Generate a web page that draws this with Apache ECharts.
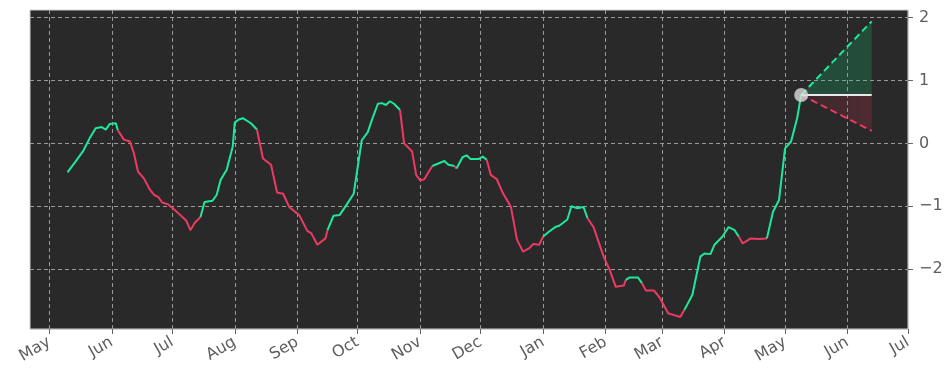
<!DOCTYPE html>
<html><head><meta charset="utf-8">
<script src="https://cdn.jsdelivr.net/npm/echarts@6/dist/echarts.min.js"></script>
<style>html,body{margin:0;padding:0;background:#fff}#c{width:952px;height:381px}</style>
</head><body><div id="c"></div>
<script>
const dates = [
'2022-05-10','2022-05-14','2022-05-18','2022-05-21','2022-05-24','2022-05-27','2022-05-29','2022-05-31','2022-06-03','2022-06-04',
'2022-06-07','2022-06-10','2022-06-12','2022-06-14','2022-06-17','2022-06-20','2022-06-22','2022-06-24','2022-06-26','2022-06-29',
'2022-07-02','2022-07-05','2022-07-08','2022-07-10','2022-07-12','2022-07-15','2022-07-17','2022-07-21','2022-07-23','2022-07-25',
'2022-07-28','2022-07-31','2022-08-01','2022-08-03','2022-08-05','2022-08-09','2022-08-12','2022-08-15','2022-08-19','2022-08-22',
'2022-08-25','2022-08-28','2022-09-02','2022-09-06','2022-09-08','2022-09-11','2022-09-15','2022-09-16','2022-09-19','2022-09-22',
'2022-09-26','2022-09-29','2022-10-03','2022-10-06','2022-10-08','2022-10-11','2022-10-13','2022-10-15','2022-10-17','2022-10-19',
'2022-10-22','2022-10-24','2022-10-28','2022-10-30','2022-11-01','2022-11-03','2022-11-07','2022-11-10','2022-11-13','2022-11-15',
'2022-11-18','2022-11-19','2022-11-22','2022-11-24','2022-11-26','2022-11-30','2022-12-02','2022-12-04','2022-12-06','2022-12-09',
'2022-12-12','2022-12-15','2022-12-16','2022-12-19','2022-12-22','2022-12-25','2022-12-27','2022-12-30','2023-01-01','2023-01-04',
'2023-01-07','2023-01-09','2023-01-13','2023-01-15','2023-01-18','2023-01-21','2023-01-23','2023-01-26','2023-01-31','2023-02-03',
'2023-02-06','2023-02-10','2023-02-11','2023-02-13','2023-02-17','2023-02-19','2023-02-21','2023-02-25','2023-02-28','2023-03-04',
'2023-03-07','2023-03-10','2023-03-12','2023-03-16','2023-03-20','2023-03-22','2023-03-25','2023-03-27','2023-03-31','2023-04-03',
'2023-04-06','2023-04-08','2023-04-10','2023-04-14','2023-04-18','2023-04-22','2023-04-25','2023-04-28','2023-05-01','2023-05-04',
'2023-05-07','2023-05-09'
];
const values = [
-0.46,-0.29,-0.11,0.08,0.24,0.26,0.22,0.31,0.32,0.21,
0.06,0.03,-0.16,-0.45,-0.56,-0.74,-0.82,-0.85,-0.94,-0.97,
-1.05,-1.14,-1.23,-1.38,-1.27,-1.17,-0.93,-0.91,-0.82,-0.58,
-0.42,-0.05,0.33,0.38,0.40,0.32,0.22,-0.24,-0.34,-0.78,
-0.80,-1.01,-1.14,-1.39,-1.43,-1.61,-1.51,-1.38,-1.15,-1.14,
-0.95,-0.80,0.05,0.18,0.37,0.63,0.64,0.61,0.67,0.63,
0.53,0.00,-0.13,-0.50,-0.59,-0.57,-0.36,-0.32,-0.28,-0.34,
-0.36,-0.40,-0.22,-0.19,-0.25,-0.25,-0.21,-0.26,-0.50,-0.57,
-0.79,-0.95,-1.01,-1.53,-1.72,-1.67,-1.60,-1.61,-1.48,-1.40,
-1.33,-1.31,-1.21,-1.00,-1.03,-1.01,-1.19,-1.33,-1.80,-2.01,
-2.28,-2.26,-2.17,-2.13,-2.13,-2.22,-2.34,-2.34,-2.46,-2.70,
-2.73,-2.76,-2.65,-2.41,-1.80,-1.75,-1.76,-1.61,-1.48,-1.33,
-1.38,-1.48,-1.59,-1.51,-1.52,-1.51,-1.09,-0.90,-0.08,0.03,
0.40,0.77
];
// trend of the segment starting at each point: G = up (green), R = down (red)
const trend = (
'GGGGGGGGGR'+'RRRRRRRRRR'+'RRRRRGGGGG'+'GGGGGGRRRR'+'RRRRRRRGGG'+
'GGGGGGGGGG'+'RRRRRRGGGG'+'RGGGGGGRRR'+'RRRRRRRRGG'+'GGGGGGRRRR'+
'RRGGGRRRRR'+'RRGGGGGGGG'+'GRRRRGGGGG'+'GG').split('');

const monthTicks = ['2022-05-01','2022-06-01','2022-07-01','2022-08-01','2022-09-01','2022-10-01','2022-11-01','2022-12-01',
  '2023-01-01','2023-02-01','2023-03-01','2023-04-01','2023-05-01','2023-06-01','2023-07-01'];
const monthLabels = ['May','Jun','Jul','Aug','Sep','Oct','Nov','Dec','Jan','Feb','Mar','Apr','May','Jun','Jul'];
const yTicks = [-2,-1,0,1,2];
const xRange = ['2022-04-21 10','2023-07-01'];
const yRange = [-2.95, 2.12];

const forecastDates = ['2023-05-09','2023-06-13'];
const forecastMid = [0.77, 0.77];
const forecastHigh = [0.77, 1.94];
const forecastLow = [0.77, 0.20];

const GREEN = '#1ee89c', RED = '#ee3a62';

function toTs(s){
  const parts = s.split(' ');
  const [y,m,d] = parts[0].split('-').map(Number);
  const h = parts[1] ? +parts[1] : 0;
  return Date.UTC(y, m-1, d, h);
}
const monthTs = monthTicks.map(toTs);

const runs = [];
let cur = null;
for (let i = 0; i < values.length - 1; i++) {
  const c = trend[i];
  if (!cur || cur.c !== c) { cur = {c, pts: [[toTs(dates[i]), values[i]]]}; runs.push(cur); }
  cur.pts.push([toTs(dates[i+1]), values[i+1]]);
}

const series = runs.map(r => ({
  type: 'line', data: r.pts, showSymbol: false, silent: true, z: 3,
  lineStyle: {color: r.c === 'G' ? GREEN : RED, width: 2},
  itemStyle: {color: r.c === 'G' ? GREEN : RED}
}));

const fT = forecastDates.map(toTs);
series.push({
  type: 'line', showSymbol: false, silent: true, z: 2,
  data: fT.map((t,i)=>[t, forecastHigh[i]]),
  lineStyle: {color: GREEN, width: 2, type: [7,4]},
  areaStyle: {origin: forecastMid[0], color: 'rgba(24,200,120,0.32)'}
});
series.push({
  type: 'line', showSymbol: false, silent: true, z: 2,
  data: fT.map((t,i)=>[t, forecastLow[i]]),
  lineStyle: {color: RED, width: 2, type: [7,4]},
  areaStyle: {origin: forecastMid[0], color: {type:'linear', x:0, y:0, x2:1, y2:0,
    colorStops:[{offset:0,color:'rgba(220,50,80,0.12)'},{offset:1,color:'rgba(220,50,80,0.3)'}]}}
});
series.push({
  type: 'line', showSymbol: false, silent: true, z: 4,
  data: fT.map((t,i)=>[t, forecastMid[i]]),
  lineStyle: {color: '#e8e8e8', width: 2}
});
series.push({
  type: 'scatter', silent: true, z: 5,
  data: [[toTs(dates[dates.length-1]), values[values.length-1]]],
  symbolSize: 14, itemStyle: {color: '#d9d9d9'}
});

const chart = echarts.init(document.getElementById('c'), null, {renderer: 'canvas'});
chart.setOption({
  animation: false,
  backgroundColor: '#ffffff',
  textStyle: {fontFamily: 'DejaVu Sans'},
  grid: {left: 30, right: 44, top: 10, bottom: 52, show: true, backgroundColor: '#292929', borderColor: '#cfcfcf', borderWidth: 1},
  xAxis: {
    type: 'value', min: toTs(xRange[0]), max: toTs(xRange[1]),
    axisLine: {show: true, onZero: false, lineStyle: {color: '#cfcfcf'}},
    axisTick: {show: true, customValues: monthTs, length: 5, lineStyle: {color: '#666'}},
    axisLabel: {customValues: monthTs, rotate: 30, color: '#5e5e5e', fontSize: 16, margin: 12,
      formatter: v => { const i = monthTs.indexOf(v); return i >= 0 ? monthLabels[i] : ''; }},
    splitLine: {show: true, lineStyle: {color: '#9a9a9a', type: [4,3], width: 1}}
  },
  yAxis: {
    type: 'value', position: 'right', min: yRange[0], max: yRange[1],
    axisLine: {show: true, onZero: false, lineStyle: {color: '#cfcfcf'}},
    axisTick: {show: true, customValues: yTicks, length: 5, lineStyle: {color: '#666'}},
    axisLabel: {customValues: yTicks, color: '#5e5e5e', fontSize: 16, margin: 11,
      formatter: v => String(v).replace('-', '\u2212')},
    splitLine: {show: true, lineStyle: {color: '#9a9a9a', type: [4,3], width: 1}}
  },
  series
});
</script></body></html>
